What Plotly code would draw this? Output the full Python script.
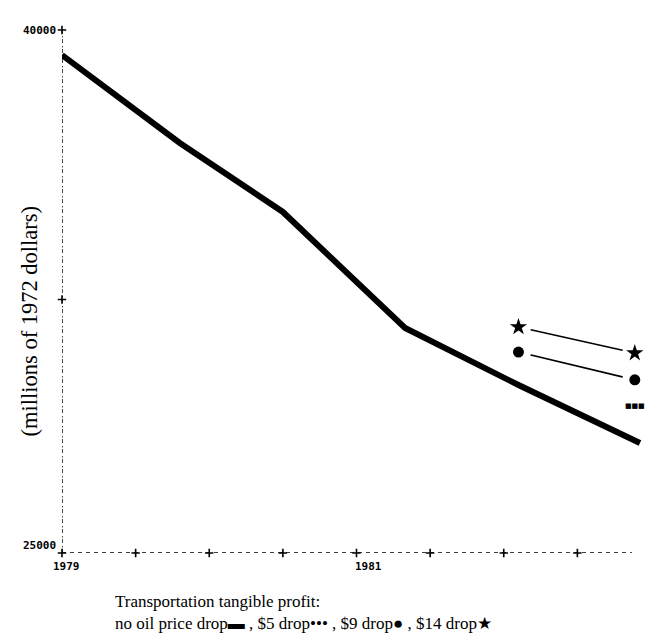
import plotly.graph_objects as go

# ---- data ----
base_year = [1979.0, 1979.8, 1980.5, 1981.33, 1982.1, 1982.925]
base_val = [39270, 36710, 34700, 31320, 29660, 27970]

drop5_year = [1982.89]
drop5_val = [29050]

drop9_year = [1982.1, 1982.89]
drop9_val = [30620, 29810]

drop14_year = [1982.1, 1982.89]
drop14_val = [31350, 30590]

x_tick_vals = [1979.0, 1979.5, 1980.0, 1980.5, 1981.0, 1981.5, 1982.0, 1982.5]
x_label_vals = [1979, 1981]
x_label_text = ["1979", "1981"]
y_tick_vals = [40000, 32150]
y_label_vals = [40000, 25000]
y_label_text = ["40000", "25000"]

X_MIN, X_MAX = 1979.0, 1983.0
Y_MIN, Y_MAX = 24767, 40000
X_AXIS_END = 1982.87

W, H = 666, 635
L, R, T, B = 62, 15, 30, 82
pw = W - L - R
ph = H - T - B

fig = go.Figure()

# dashed axes
fig.add_shape(type="line", xref="x", yref="y", x0=X_MIN, x1=X_MIN, y0=Y_MIN, y1=Y_MAX,
              line=dict(color="black", width=1.4, dash="4px,1.5px,1.5px,3px"), layer="below")
fig.add_shape(type="line", xref="x", yref="y", x0=X_MIN, x1=X_AXIS_END, y0=Y_MIN, y1=Y_MIN,
              line=dict(color="black", width=1.4, dash="4px,4px"), layer="below")

# tick crosses
fig.add_trace(go.Scatter(x=x_tick_vals, y=[Y_MIN] * len(x_tick_vals), mode="markers",
                         marker=dict(symbol="cross-thin", size=6, line=dict(color="black", width=1.6)),
                         cliponaxis=False, showlegend=False, hoverinfo="skip"))
fig.add_trace(go.Scatter(x=[X_MIN] * len(y_tick_vals), y=y_tick_vals, mode="markers",
                         marker=dict(symbol="cross-thin", size=6, line=dict(color="black", width=1.6)),
                         cliponaxis=False, showlegend=False, hoverinfo="skip"))

# main line
fig.add_trace(go.Scatter(x=base_year, y=base_val, mode="lines",
                         line=dict(color="black", width=6), showlegend=False, cliponaxis=False))

# connecting lines
for xs, ys in [(drop9_year, drop9_val), (drop14_year, drop14_val)]:
    fig.add_trace(go.Scatter(x=xs, y=ys, mode="lines", line=dict(color="black", width=1.6),
                             showlegend=False, cliponaxis=False))
# white gap masks
for xs, ys in [(drop9_year, drop9_val), (drop14_year, drop14_val)]:
    fig.add_trace(go.Scatter(x=xs, y=ys, mode="markers", marker=dict(color="white", size=25, symbol="circle"),
                             showlegend=False, cliponaxis=False, hoverinfo="skip"))
# markers
fig.add_trace(go.Scatter(x=drop9_year, y=drop9_val, mode="markers",
                         marker=dict(color="black", size=11, symbol="circle"),
                         showlegend=False, cliponaxis=False))
fig.add_trace(go.Scatter(x=drop14_year, y=drop14_val, mode="markers",
                         marker=dict(color="black", size=13, symbol="star"),
                         showlegend=False, cliponaxis=False))
fig.add_trace(go.Scatter(x=drop5_year, y=drop5_val, mode="text", text=["■■■"],
                         textfont=dict(family="DejaVu Sans", size=7, color="black"),
                         showlegend=False, cliponaxis=False))

tick_font = dict(family="DejaVu Sans Mono", size=11, color="black")
ann = []
for v, t in zip(y_label_vals, y_label_text):
    ann.append(dict(x=X_MIN, y=v, xref="x", yref="y", text="<b>" + t + "</b>", showarrow=False,
                    xanchor="right", yanchor="middle", xshift=-4, font=tick_font))
for v, t, sh in zip(x_label_vals, x_label_text, [4, 12]):
    ann.append(dict(x=v, y=Y_MIN, xref="x", yref="y", text="<b>" + t + "</b>", showarrow=False,
                    xanchor="center", yanchor="top", xshift=sh, yshift=-5, font=tick_font))

serif = dict(family="Liberation Serif", size=17, color="black")
ann.append(dict(x=(15 - L) / pw, y=(H - B - 321) / ph, xref="paper", yref="paper",
                text="(millions of 1972 dollars)", textangle=-90, showarrow=False,
                font=dict(family="Liberation Serif", size=22.5, color="black")))
ann.append(dict(x=(113 - L) / pw, y=(H - B - 601) / ph, xref="paper", yref="paper",
                text="Transportation tangible profit:", showarrow=False, xanchor="left",
                yanchor="middle", font=serif))
ann.append(dict(x=(113 - L) / pw, y=(H - B - 623) / ph, xref="paper", yref="paper",
                text="no oil price drop▬ , $5 drop••• , $9 drop● , $14 drop★", showarrow=False,
                xanchor="left", yanchor="middle", font=serif))

fig.update_layout(
    width=W, height=H, margin=dict(l=L, r=R, t=T, b=B),
    paper_bgcolor="white", plot_bgcolor="white",
    xaxis=dict(range=[X_MIN, X_MAX], showgrid=False, zeroline=False, showticklabels=False,
               ticks="", showline=False),
    yaxis=dict(range=[Y_MIN, Y_MAX], showgrid=False, zeroline=False, showticklabels=False,
               ticks="", showline=False),
    annotations=ann, showlegend=False,
)

fig.write_html("out.html", config={"displayModeBar": False},
               post_script="document.body.style.margin='0';document.body.style.overflow='hidden';")
